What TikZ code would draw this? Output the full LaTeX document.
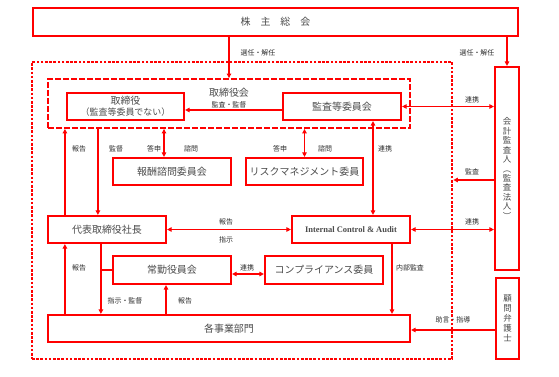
\documentclass[tikz,border=0pt]{standalone}
\usepackage{fontspec}
\setmainfont{Liberation Serif}
\newfontfamily\jp{Noto Sans CJK JP}
\usepackage{tikz}
\usetikzlibrary{arrows.meta, calc}
\definecolor{ctlred}{RGB}{255, 0, 0}
\definecolor{inktext}{RGB}{75, 75, 75}
\definecolor{labeltext}{RGB}{45, 45, 45}

\begin{document}
\begin{tikzpicture}[x=1bp, y=-1bp,
  box/.style={draw=ctlred, line width=2.2bp, fill=white, text=inktext, font=\jp\normalsize, align=center, inner sep=1pt},
  vbox/.style={box, font=\jp\fontsize{8.5}{9.5}\selectfont},
  lbl/.style={text=labeltext, font=\jp\scriptsize, inner sep=0pt},
  conn/.style={draw=ctlred, line width=1.3bp, -{Triangle[length=4.5bp, width=4.5bp]}},
  biconn/.style={conn, {Triangle[length=4.5bp, width=4.5bp]}-{Triangle[length=4.5bp, width=4.5bp]}},
  plainconn/.style={draw=ctlred, line width=1.3bp}]
  \fill[white] (0,0) rectangle (559,376);
  \useasboundingbox (0,0) rectangle (559,376);

  % Groups
  \node[draw=ctlred, line width=2.7bp, dash pattern=on 2.7bp off 1.5bp, minimum width=420bp, minimum height=297bp] (mgmt) at (242,210.5) {};
  \node[draw=ctlred, line width=1.9bp, dash pattern=on 6bp off 2bp, minimum width=362bp, minimum height=49bp] (board) at (229,103.5) {};

  % Boxes
  \node[box, minimum width=485bp, minimum height=28bp] (gm) at (275.5,22) {株　主　総　会};
  \node[box, minimum width=117bp, minimum height=27bp] (dir) at (125.5,106.5) {取締役\\[-1pt]{\small （監査等委員でない）}};
  \node[box, minimum width=118bp, minimum height=27bp] (ac) at (342,106.5) {監査等委員会};
  \node[box, minimum width=118bp, minimum height=27bp] (comp) at (172,171.5) {報酬諮問委員会};
  \node[box, minimum width=117bp, minimum height=27bp] (risk) at (304.5,171.5) {リスクマネジメント委員};
  \node[box, minimum width=118bp, minimum height=27bp] (pres) at (107,229.5) {代表取締役社長};
  \node[box, minimum width=118bp, minimum height=27bp, font=\bfseries\fontsize{8.5}{10}\selectfont] (ica) at (351,229.5) {Internal Control \& Audit};
  \node[box, minimum width=118bp, minimum height=28bp] (exec) at (172,270) {常勤役員会};
  \node[box, minimum width=118bp, minimum height=28bp] (cc) at (324,270) {コンプライアンス委員};
  \node[box, minimum width=362bp, minimum height=27bp] (div) at (229,328.5) {各事業部門};
  \node[vbox, minimum width=24bp, minimum height=203bp] (aud) at (507,168.5) {会\\計\\監\\査\\人\\︵\\監\\査\\法\\人\\︶};
  \node[vbox, minimum width=23bp, minimum height=81bp, font=\jp\fontsize{8.5}{10}\selectfont] (law) at (507.5,318.5) {顧\\問\\弁\\護\\士};

  % Connector ends
  \coordinate (ovs) at ([yshift=-3.5bp]ac.west);
  \coordinate (rem) at ([xshift=-8bp]comp.north);
  \coordinate (rep1) at ([xshift=18bp]pres.north west);
  \coordinate (sup1) at ([xshift=51bp]pres.north west);
  \coordinate (lnk1) at ([xshift=22bp]ica.north);
  \coordinate (audt) at ([yshift=-11.5bp]aud.west);
  \coordinate (rep2) at ([xshift=18bp]pres.south west);
  \coordinate (cmd) at ([xshift=54bp]pres.south west);
  \coordinate (rep3) at ([xshift=-6bp]exec.south);
  \coordinate (lnk2) at ([yshift=-4bp]exec.east);
  \coordinate (ia) at ([xshift=41bp]ica.south);
  \coordinate (adv) at ([yshift=-11.5bp]law.west);

  % Connectors
  \draw[conn] (board.north |- gm.south) -- (board.north);
  \draw[conn] (aud.north |- gm.south) -- (aud.north);
  \draw[conn] (ovs) -- (ovs -| dir.east);
  \draw[biconn] (rem) -- (rem |- board.south);
  \draw[biconn] (risk.north) -- (risk.north |- board.south);
  \draw[conn] (rep1) -- (rep1 |- board.south);
  \draw[conn] (sup1 |- board.south) -- (sup1);
  \draw[biconn] (lnk1) -- (lnk1 |- ac.south);
  \draw[biconn] (ac.east) -- (ac.east -| aud.west);
  \draw[conn] (audt) -- (audt -| mgmt.east);
  \draw[biconn] (ica.east) -- (ica.east -| aud.west);
  \draw[biconn] (pres.east) -- (ica.west);
  \draw[conn] (rep2 |- div.north) -- (rep2);
  \draw[conn] (cmd) -- (cmd |- div.north);
  \draw[plainconn] (exec.west) -- (exec.west -| cmd);
  \draw[conn] (rep3 |- div.north) -- (rep3);
  \draw[biconn] (lnk2) -- (lnk2 -| cc.west);
  \draw[conn] (ia) -- (ia |- div.north);
  \draw[conn] (adv) -- (adv -| div.east);

  % Labels
  \node[lbl, font=\jp\normalsize, text=inktext] (lb-board) at (229,93) {取締役会};
  \node[lbl] (lb-ovs) at (229,104.5) {監査・監督};
  \node[lbl] (lb-elect1) at (258,53) {選任・解任};
  \node[lbl] (lb-elect2) at (477,53) {選任・解任};
  \node[lbl] (lb-rep1) at (79,149) {報告};
  \node[lbl] (lb-sup1) at (116,149) {監督};
  \node[lbl] (lb-ans1) at (154,149) {答申};
  \node[lbl] (lb-ask1) at (191,149) {諮問};
  \node[lbl] (lb-ans2) at (280,149) {答申};
  \node[lbl] (lb-ask2) at (325,149) {諮問};
  \node[lbl] (lb-lnk1) at (385,149) {連携};
  \node[lbl] (lb-lnk3) at (472,100) {連携};
  \node[lbl] (lb-audt) at (472,172) {監査};
  \node[lbl] (lb-lnk4) at (472,222) {連携};
  \node[lbl] (lb-rep4) at (226,222) {報告};
  \node[lbl] (lb-ord) at (226,240) {指示};
  \node[lbl] (lb-rep2) at (79,268) {報告};
  \node[lbl] (lb-lnk2) at (247,268) {連携};
  \node[lbl] (lb-ia) at (410,268) {内部監査};
  \node[lbl] (lb-cmd) at (125,301) {指示・監督};
  \node[lbl] (lb-rep3) at (185,301) {報告};
  \node[lbl] (lb-adv) at (453,320) {助言・指導};
\end{tikzpicture}
\end{document}
